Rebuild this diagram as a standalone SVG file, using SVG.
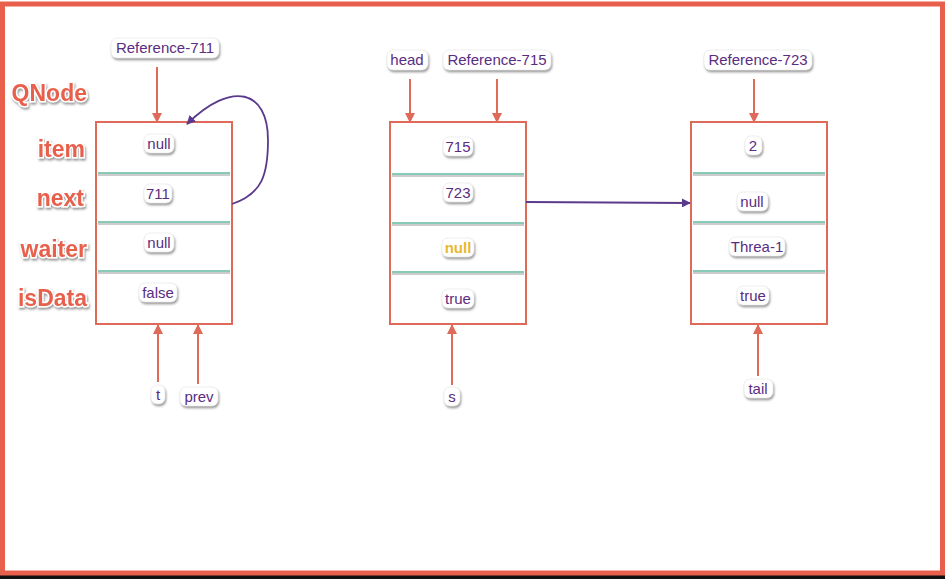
<svg xmlns="http://www.w3.org/2000/svg" width="945" height="579" viewBox="0 0 945 579">
<defs>
<marker id="ra" viewBox="0 0 10 10" refX="9" refY="5" markerWidth="5" markerHeight="5" orient="auto"><path d="M0,0 L10,5 L0,10 z" fill="#e06a5a"/></marker>
<marker id="pa" viewBox="0 0 10 10" refX="9" refY="5" markerWidth="5" markerHeight="5" orient="auto"><path d="M0,0 L10,5 L0,10 z" fill="#5b3a8c"/></marker>
<filter id="sh" x="-20%" y="-20%" width="140%" height="160%"><feDropShadow dx="1" dy="2" stdDeviation="1" flood-color="#555" flood-opacity="0.6"/></filter>
</defs>
<style>
.pill{fill:#fff;stroke:#ddd;stroke-width:0.5;filter:url(#sh)}
.t{font-family:"Liberation Sans",Arial,sans-serif;font-size:15px;fill:#5a2d82;text-anchor:middle}
.y{fill:#e8b830;font-weight:bold}
.lbl{font-family:"Liberation Sans",Arial,sans-serif;font-size:23px;font-weight:bold;fill:#e8604c;text-anchor:end;stroke:#fff;stroke-width:3;paint-order:stroke;filter:url(#sh)}
.box{fill:#fff;stroke:#e06a5a;stroke-width:2}
.dg{stroke:#5fb8a0;stroke-width:1.5}
.dd{stroke:#999;stroke-width:1}
.ra{stroke:#e06a5a;stroke-width:2;fill:none;marker-end:url(#ra)}
.pa{stroke:#5b3a8c;stroke-width:1.8;fill:none;marker-end:url(#pa)}
</style>
<rect x="0" y="0" width="945" height="579" fill="#fff"/>
<rect x="0" y="575" width="945" height="4" fill="#111"/>
<rect x="2.5" y="4" width="940" height="569" fill="none" stroke="#e8604c" stroke-width="5"/>

<g id="labels">
<text class="lbl" x="87" y="101">QNode</text>
<text class="lbl" x="85" y="157">item</text>
<text class="lbl" x="84" y="206">next</text>
<text class="lbl" x="87" y="257">waiter</text>
<text class="lbl" x="87" y="306">isData</text>
</g>

<g id="node711">
<rect class="box" x="96" y="122" width="136" height="202"/>
<line class="dd" x1="98" y1="175" x2="230" y2="175"/><line class="dg" x1="98" y1="173" x2="230" y2="173"/>
<line class="dd" x1="98" y1="224" x2="230" y2="224"/><line class="dg" x1="98" y1="222" x2="230" y2="222"/>
<line class="dd" x1="98" y1="273" x2="230" y2="273"/><line class="dg" x1="98" y1="271" x2="230" y2="271"/>
<rect class="pill" x="144" y="134" width="30" height="19" rx="6"/><text class="t" x="159" y="149">null</text>
<rect class="pill" x="144" y="184" width="28" height="19" rx="6"/><text class="t" x="158" y="199">711</text>
<rect class="pill" x="144" y="233" width="30" height="19" rx="6"/><text class="t" x="159" y="248">null</text>
<rect class="pill" x="139" y="283" width="38" height="19" rx="6"/><text class="t" x="158" y="298">false</text>
</g>

<g id="node715">
<rect class="box" x="390" y="122" width="136" height="202"/>
<line class="dd" x1="392" y1="176" x2="524" y2="176"/><line class="dg" x1="392" y1="174" x2="524" y2="174"/>
<line class="dd" x1="392" y1="225" x2="524" y2="225"/><line class="dg" x1="392" y1="223" x2="524" y2="223"/>
<line class="dd" x1="392" y1="274" x2="524" y2="274"/><line class="dg" x1="392" y1="272" x2="524" y2="272"/>
<rect class="pill" x="443" y="137" width="30" height="19" rx="6"/><text class="t" x="458" y="152">715</text>
<rect class="pill" x="443" y="183" width="30" height="19" rx="6"/><text class="t" x="458" y="198">723</text>
<rect class="pill" x="442" y="238" width="32" height="19" rx="6"/><text class="t y" x="458" y="253">null</text>
<rect class="pill" x="442" y="289" width="32" height="19" rx="6"/><text class="t" x="458" y="304">true</text>
</g>

<g id="node723">
<rect class="box" x="691" y="122" width="136" height="202"/>
<line class="dd" x1="693" y1="175" x2="825" y2="175"/><line class="dg" x1="693" y1="173" x2="825" y2="173"/>
<line class="dd" x1="693" y1="224" x2="825" y2="224"/><line class="dg" x1="693" y1="222" x2="825" y2="222"/>
<line class="dd" x1="693" y1="273" x2="825" y2="273"/><line class="dg" x1="693" y1="271" x2="825" y2="271"/>
<rect class="pill" x="745" y="136" width="17" height="19" rx="6"/><text class="t" x="753" y="151">2</text>
<rect class="pill" x="737" y="192" width="31" height="19" rx="6"/><text class="t" x="752" y="207">null</text>
<rect class="pill" x="729" y="237" width="56" height="19" rx="6"/><text class="t" x="757" y="252">Threa-1</text>
<rect class="pill" x="737" y="286" width="32" height="19" rx="6"/><text class="t" x="753" y="301">true</text>
</g>

<g id="pointers">
<rect class="pill" x="111" y="38" width="108" height="20" rx="6"/><text class="t" x="165" y="53">Reference-711</text>
<rect class="pill" x="387" y="50" width="41" height="20" rx="6"/><text class="t" x="407" y="65">head</text>
<rect class="pill" x="443" y="50" width="108" height="20" rx="6"/><text class="t" x="497" y="65">Reference-715</text>
<rect class="pill" x="704" y="50" width="108" height="20" rx="6"/><text class="t" x="758" y="65">Reference-723</text>
<rect class="pill" x="151" y="385" width="14" height="19" rx="6"/><text class="t" x="158" y="400">t</text>
<rect class="pill" x="180" y="387" width="38" height="19" rx="6"/><text class="t" x="199" y="402">prev</text>
<rect class="pill" x="444" y="387" width="16" height="19" rx="6"/><text class="t" x="452" y="402">s</text>
<rect class="pill" x="744" y="379" width="29" height="19" rx="6"/><text class="t" x="758" y="394">tail</text>
</g>

<g id="connectors">
<line class="ra" x1="157" y1="67" x2="157" y2="122"/>
<line class="ra" x1="410" y1="79" x2="410" y2="122"/>
<line class="ra" x1="497" y1="79" x2="497" y2="122"/>
<line class="ra" x1="754" y1="79" x2="754" y2="122"/>
<line class="ra" x1="158" y1="382" x2="158" y2="325"/>
<line class="ra" x1="198" y1="384" x2="198" y2="325"/>
<line class="ra" x1="452" y1="385" x2="452" y2="325"/>
<line class="ra" x1="758" y1="376" x2="758" y2="325"/>
<path class="pa" d="M232,204 C262,194 268,175 268,140 C268,90 232,80 187,124"/>
<line class="pa" x1="526" y1="202" x2="690" y2="203"/>
</g>
</svg>
